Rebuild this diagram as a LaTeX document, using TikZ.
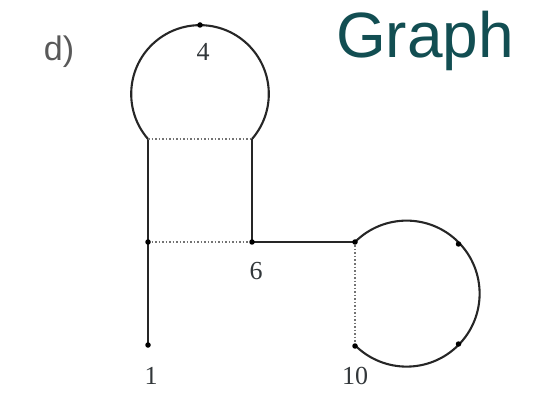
\documentclass[tikz,border=0pt]{standalone}
\usepackage{fontspec}
\setmainfont{Liberation Serif}
\newfontfamily\arialfont{Liberation Sans}
\definecolor{teal1}{RGB}{18,78,82}
\definecolor{lbl}{RGB}{50,55,58}
\begin{document}
\begin{tikzpicture}[x=1pt,y=-1pt,
  edge/.style={line width=2.1pt,black!85},
  dotedge/.style={line width=2pt,black!55,dash pattern=on 1.5pt off 2pt},
  vdot/.style={circle,fill=black,inner sep=0pt,minimum size=5.5pt},
  num/.style={font=\fontsize{26}{26}\selectfont,text=lbl}]
\useasboundingbox (0,0) rectangle (542,404);
% vertices
\coordinate (t) at (200,25);
\coordinate (a) at (148,139);
\coordinate (b) at (252,139);
\coordinate (c) at (148,242);
\coordinate (v6) at (252,242);
\coordinate (v1) at (148,345);
\coordinate (p) at (355,242);
\coordinate (v10) at (355,346);
\coordinate (q) at (458.5,244);
\coordinate (r) at (458.5,344);
% top loop
\draw[edge] (a) arc[start angle=139.1,end angle=400.9,radius=68.8];
\draw[edge] (a) -- (c) -- (v1);
\draw[edge] (b) -- (v6) -- (p);
\draw[dotedge] (a) -- (b);
\draw[dotedge] (c) -- (v6);
% right loop
\draw[edge] (p) arc[start angle=225,end angle=495,radius=73];
\draw[dotedge] (p) -- (v10);
% dots
\foreach \n in {t,c,v6,v1,p,v10,q,r} \node[vdot] at (\n) {};
% labels
\node[num] (l4) at (203,52) {4};
\node[num] (l6) at (256,271) {6};
\node[num] (l1) at (151,376) {1};
\node[num] (l10) at (355,376) {10};
\node[font=\arialfont\fontsize{34}{34}\selectfont,text=black!65] (d) at (59,52) {d)};
\node[font=\arialfont\fontsize{64}{64}\selectfont,text=teal1,anchor=base] (g) at (425,58) {Graph};
\end{tikzpicture}
\end{document}
